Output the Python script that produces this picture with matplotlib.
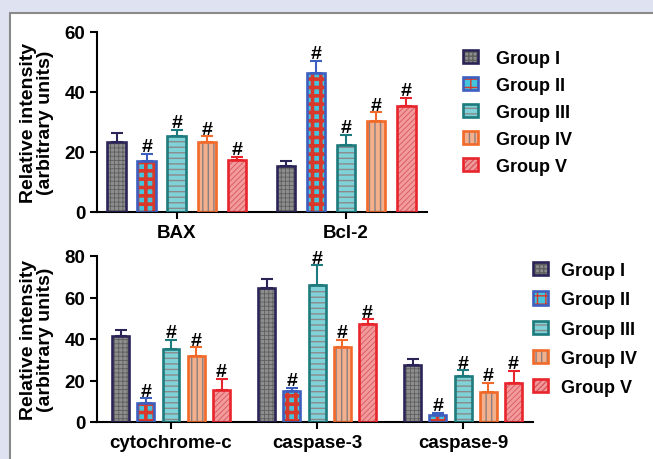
import matplotlib
matplotlib.use('Agg')
import matplotlib.pyplot as plt
from matplotlib.patches import Rectangle, Patch
from matplotlib.legend_handler import HandlerTuple
import numpy as np

plt.rcParams['font.family'] = ['Liberation Sans', 'DejaVu Sans']
plt.rcParams['font.weight'] = 'bold'

# ---------------- data ----------------
groups = ['Group I', 'Group II', 'Group III', 'Group IV', 'Group V']

top_categories = ['BAX', 'Bcl-2']
top_means = [[23.5, 15.5],   # Group I
             [17.0, 46.5],   # Group II
             [25.3, 22.5],   # Group III
             [23.3, 30.5],   # Group IV
             [17.2, 35.5]]   # Group V
top_errs = [[3.0, 1.5],
            [2.5, 3.8],
            [2.0, 3.2],
            [1.9, 2.7],
            [1.1, 2.5]]
top_sig = [[0, 0], [1, 1], [1, 1], [1, 1], [1, 1]]
top_yticks = [0, 20, 40, 60]

bot_categories = ['cytochrome-c', 'caspase-3', 'caspase-9']
bot_means = [[41.5, 64.5, 27.5],
             [9.0, 15.0, 3.5],
             [35.0, 66.0, 22.0],
             [32.0, 36.0, 14.5],
             [15.5, 47.0, 19.0]]
bot_errs = [[2.8, 4.5, 2.8],
            [2.5, 1.5, 0.8],
            [4.5, 9.5, 3.0],
            [4.0, 3.5, 4.5],
            [5.3, 2.5, 5.7]]
bot_sig = [[0, 0, 0], [1, 1, 1], [1, 1, 1], [1, 1, 1], [1, 1, 1]]
bot_yticks = [0, 20, 40, 60, 80]

ylabel = 'Relative intensity\n(arbitrary units)'

# ---------------- styles ----------------
edge_colors = ['#2b2557', '#3d5fbf', '#1d7b7d', '#f26a2a', '#e8242c']
face_colors = ['#8e8e8e', '#45c4de', '#7fd3d8', '#f4b08c', '#f29a9c']
hatch_colors = ['#5e5e5e', '#d8392b', '#8a8a8a', '#8a7f80', '#d6575d']
hatches = ['++++', '++', '---', '|||', '//////']
hatch_lws = [0.6, 2.6, 1.0, 1.0, 0.6]

fig = plt.figure(figsize=(6.53, 4.6), dpi=100)
fig.patch.set_facecolor('#dfe3f1')
panel = Rectangle((10 / 653, -0.01), 1.0, 1 - 14 / 460 + 0.01,
                  transform=fig.transFigure, facecolor='white',
                  edgecolor='#8a8a8a', linewidth=1.5, zorder=-5)
fig.patches.append(panel)


def draw_panel(ax, cats, means, errs, sig, yticks, spacing, width, xlim, ylim):
    x = np.arange(len(cats))
    n = len(groups)
    for gi in range(n):
        xs = x + (gi - (n - 1) / 2) * spacing
        with plt.rc_context({'hatch.linewidth': hatch_lws[gi]}):
            bars = ax.bar(xs, means[gi], width, facecolor=face_colors[gi],
                          edgecolor=hatch_colors[gi], hatch=hatches[gi],
                          linewidth=0, zorder=2)
            for b in bars:
                if hasattr(b, 'set_hatch_linewidth'):
                    b.set_hatch_linewidth(hatch_lws[gi])
        ax.bar(xs, means[gi], width, facecolor='none',
               edgecolor=edge_colors[gi], linewidth=1.9, zorder=3)
        ax.errorbar(xs, means[gi], yerr=[np.zeros(len(cats)), errs[gi]],
                    fmt='none', ecolor=edge_colors[gi], elinewidth=1.5,
                    capsize=4, capthick=1.5, zorder=1)
        for xi, m, e, s in zip(xs, means[gi], errs[gi], sig[gi]):
            if s:
                ax.annotate('#', (xi, m + e), xytext=(0, -1),
                            textcoords='offset points', ha='center',
                            va='bottom', fontsize=14, fontweight='bold')
    ax.set_xlim(*xlim)
    ax.set_ylim(*ylim)
    ax.set_yticks(yticks)
    ax.set_xticks(x)
    ax.set_xticklabels(cats, fontsize=13.5, fontweight='bold')
    ax.tick_params(axis='y', labelsize=13.5, width=1.5, length=5)
    ax.tick_params(axis='x', width=1.5, length=5)
    for lab in ax.get_yticklabels():
        lab.set_fontweight('bold')
    for sp in ['top', 'right']:
        ax.spines[sp].set_visible(False)
    for sp in ['left', 'bottom']:
        ax.spines[sp].set_linewidth(1.5)
    ax.set_ylabel(ylabel, fontsize=14, fontweight='bold', linespacing=1.0)
    ax.set_facecolor('none')


def make_handles():
    hs = []
    for gi in range(len(groups)):
        f = Patch(facecolor=face_colors[gi], edgecolor=hatch_colors[gi],
                  hatch=hatches[gi], linewidth=0)
        e = Patch(facecolor='none', edgecolor=edge_colors[gi], linewidth=1.9)
        hs.append((f, e))
    return hs


ax1 = fig.add_axes([97 / 653, 1 - 213 / 460, 330 / 653, 180 / 460])
draw_panel(ax1, top_categories, top_means, top_errs, top_sig, top_yticks,
           0.1775, 0.112, (-0.473, 1.479), (0, 60))

ax2 = fig.add_axes([97 / 653, 1 - 423 / 460, 436 / 653, 166 / 460])
draw_panel(ax2, bot_categories, bot_means, bot_errs, bot_sig, bot_yticks,
           0.173, 0.116, (-0.507, 2.479), (0, 80))

ax1.yaxis.set_label_coords((54 - 97) / 330, 0.5)
ax2.yaxis.set_label_coords((54 - 97) / 436, 0.5)

leg_kw = dict(handler_map={tuple: HandlerTuple(ndivide=1, pad=0)},
              frameon=False, prop={'size': 13, 'weight': 'bold'},
              handlelength=0.85, handleheight=0.75,
              loc='upper left', borderaxespad=0, borderpad=0)
fig.legend(make_handles(), groups, bbox_to_anchor=(463 / 653, 1 - 51 / 460),
           labelspacing=0.55, handletextpad=1.0, **leg_kw)
fig.legend(make_handles(), groups, bbox_to_anchor=(533 / 653, 1 - 263 / 460),
           labelspacing=0.68, handletextpad=0.7, **leg_kw)

fig.savefig('out.png', dpi=100, facecolor=fig.get_facecolor())
